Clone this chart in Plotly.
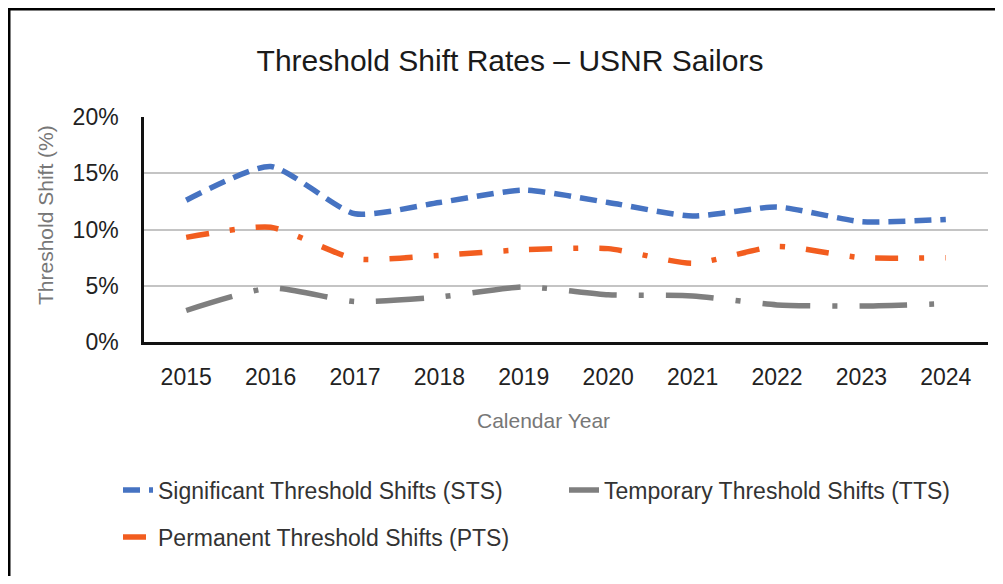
import plotly.graph_objects as go

years = ["2015", "2016", "2017", "2018", "2019", "2020", "2021", "2022", "2023", "2024"]
sts = [12.6, 15.6, 11.4, 12.4, 13.5, 12.4, 11.2, 12.0, 10.7, 10.9]
tts = [2.8, 4.8, 3.6, 4.0, 4.9, 4.2, 4.1, 3.3, 3.2, 3.4]
pts = [9.3, 10.2, 7.4, 7.7, 8.2, 8.3, 7.0, 8.5, 7.5, 7.5]

sts_name = "Significant Threshold Shifts (STS)"
tts_name = "Temporary Threshold Shifts (TTS)"
pts_name = "Permanent Threshold Shifts (PTS)"
title_text = "Threshold Shift Rates \u2013 USNR Sailors"
x_title = "Calendar Year"
y_title = "Threshold Shift (%)"

# page offset (body margin) compensation: reference pixel -> figure pixel
OFF = 8
W, H = 1003 - 2 * OFF, 584 - 2 * OFF
L, T = 144 - OFF, 117 - OFF
R = W - (988 - OFF)
B = H - (342 - OFF)
PW, PH = W - L - R, H - T - B

def px(x):
    return (x - OFF - L) / PW

def py(y):
    return (H - B - (y - OFF)) / PH

FONT = "Liberation Sans, Arial, sans-serif"
BLUE = "#4673C2"
GRAY = "#7F7F7F"
ORANGE = "#F25D1F"

fig = go.Figure()
fig.add_trace(go.Scatter(x=years, y=sts, name=sts_name, mode="lines",
                         line=dict(color=BLUE, width=5.5, dash="17px,9px",
                                   shape="spline", smoothing=0.6),
                         legend="legend"))
fig.add_trace(go.Scatter(x=years, y=tts, name=tts_name, mode="lines",
                         line=dict(color=GRAY, width=5.5, dash="48px,22px,5px,22px",
                                   shape="spline", smoothing=0.6),
                         legend="legend"))
fig.add_trace(go.Scatter(x=years, y=pts, name=pts_name, mode="lines",
                         line=dict(color=ORANGE, width=5.5, dash="23px,21px,5px,21px",
                                   shape="spline", smoothing=0.6),
                         legend="legend2"))

fig.update_layout(
    width=W, height=H,
    margin=dict(l=L, r=R, t=T, b=B, autoexpand=False),
    paper_bgcolor="white", plot_bgcolor="white",
    font=dict(family=FONT, color="#222222"),
    title=dict(text=title_text, x=(510 - OFF) / W, xref="container", xanchor="center",
               y=1 - (60 - OFF) / H, yref="container", yanchor="middle",
               font=dict(size=30, color="#1a1a1a", family=FONT)),
    xaxis=dict(type="category", range=[-0.5, len(years) - 0.5], showgrid=False,
               showline=True, linecolor="#111111",
               linewidth=2.5, ticks="", tickfont=dict(size=23, color="#222222"),
               ticklabelstandoff=13, zeroline=False),
    yaxis=dict(range=[0, 20], dtick=5, ticksuffix="%", showgrid=True,
               gridcolor="#C4C4C4", gridwidth=1.5, showline=True, linecolor="#111111",
               linewidth=2.5, ticks="", tickfont=dict(size=23, color="#222222"),
               ticklabelstandoff=18, zeroline=False),
    legend=dict(orientation="h", x=px(118), xanchor="left", y=py(490), yanchor="middle",
                entrywidth=401, entrywidthmode="pixels",
                font=dict(size=23, color="#333333", family=FONT),
                bgcolor="rgba(0,0,0,0)"),
    legend2=dict(orientation="h", x=px(118), xanchor="left", y=py(537), yanchor="middle",
                 font=dict(size=23, color="#333333", family=FONT),
                 bgcolor="rgba(0,0,0,0)"),
    annotations=[
        dict(text=x_title, x=px(543), y=py(420), xref="paper", yref="paper",
             showarrow=False, xanchor="center", yanchor="middle",
             font=dict(size=21, color="#777777", family=FONT)),
        dict(text=y_title, x=px(45), y=py(215), xref="paper", yref="paper",
             showarrow=False, xanchor="center", yanchor="middle", textangle=-90,
             font=dict(size=21, color="#777777", family=FONT)),
    ],
    shapes=[
        dict(type="line", xref="paper", yref="paper", x0=px(0), x1=px(1003), y0=py(9), y1=py(9),
             line=dict(color="black", width=3)),
        dict(type="line", xref="paper", yref="paper", x0=px(9), x1=px(9), y0=py(8), y1=py(600),
             line=dict(color="black", width=3)),
    ],
)

fig.write_html("out.html")
